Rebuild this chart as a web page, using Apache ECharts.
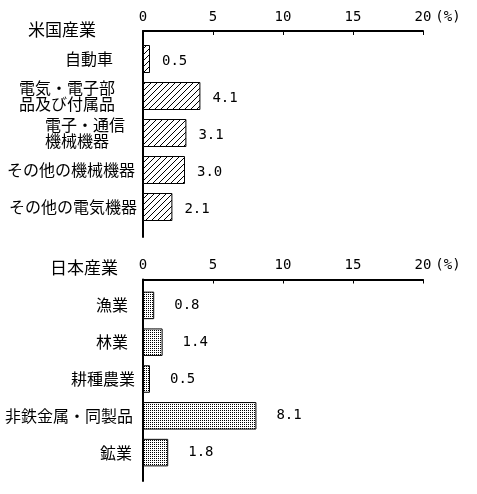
<!DOCTYPE html>
<html>
<head>
<meta charset="utf-8">
<script src="https://cdn.jsdelivr.net/npm/echarts@6/dist/echarts.min.js"></script>
<style>
html, body { margin: 0; padding: 0; background: #fff; }
#main { width: 477px; height: 494px; }
</style>
</head>
<body>
<div id="main"></div>
<script>
// data
var usTitle = '米国産業';
var usCats = ['自動車', '電気・電子部\n品及び付属品', '電子・通信\n機械機器', 'その他の機械機器', 'その他の電気機器'];
var usVals = [0.5, 4.1, 3.1, 3.0, 2.1];

var jpTitle = '日本産業';
var jpCats = ['漁業', '林業', '耕種農業', '非鉄金属・同製品', '鉱業'];
var jpVals = [0.8, 1.4, 0.5, 8.1, 1.8];

var axisMin = 0, axisMax = 20, axisStep = 5;
var unitLabel = '(%)';

var jpFont = '"Noto Sans CJK JP", sans-serif';
var numFont = '"DejaVu Sans Mono", monospace';

// fill patterns
function hatch() {
    var c = document.createElement('canvas');
    c.width = 6; c.height = 6;
    var g = c.getContext('2d');
    g.fillStyle = '#fff';
    g.fillRect(0, 0, 6, 6);
    g.fillStyle = '#000';
    for (var i = 0; i < 6; i++) g.fillRect(i, 5 - i, 1, 1);
    return c;
}
function dots() {
    var c = document.createElement('canvas');
    c.width = 2; c.height = 2;
    var g = c.getContext('2d');
    g.fillStyle = '#fff';
    g.fillRect(0, 0, 2, 2);
    g.fillStyle = '#000';
    g.fillRect(0, 0, 1, 1);
    return c;
}

// label shifts (right padding) so the names sit like the original text boxes
var usRich = {
    c0: {padding: [0, 24, 0, 0]},
    c1: {padding: [0, 22, 0, 0], width: 96, align: 'left', lineHeight: 16},
    c2: {padding: [0, 12, 0, 0], width: 80, align: 'left', lineHeight: 16},
    c3: {padding: [0, 2, 0, 0]},
    c4: {padding: [0, 0, 0, 0]}
};
var jpRich = {
    c0: {padding: [0, 9, 0, 0]},
    c1: {padding: [0, 9, 0, 0]},
    c2: {padding: [0, 2, 0, 0]},
    c3: {padding: [0, 4, 0, 0]},
    c4: {padding: [0, 5, 0, 0]}
};

function frameX(idx) {
    return {
        gridIndex: idx, type: 'value', position: 'top',
        min: axisMin, max: axisMax, interval: axisStep,
        name: unitLabel, nameLocation: 'end', nameGap: 4,
        nameTextStyle: {fontFamily: numFont, fontSize: 14, color: '#000', verticalAlign: 'bottom', padding: [0, 0, 7, 0]},
        axisLine: {show: true, onZero: false, lineStyle: {color: '#000', width: 2}},
        axisTick: {show: true, inside: true, length: 4, lineStyle: {color: '#000', width: 1}},
        axisLabel: {margin: 7, fontFamily: numFont, fontSize: 14, color: '#000'},
        splitLine: {show: false}
    };
}
function frameY(idx) {
    return {
        gridIndex: idx, type: 'value', min: 0, max: 1,
        axisLine: {show: true, onZero: false, lineStyle: {color: '#000', width: 2}},
        axisTick: {show: false}, axisLabel: {show: false}, splitLine: {show: false}
    };
}
function barX(idx) {
    return {
        gridIndex: idx, type: 'value', min: axisMin, max: axisMax,
        show: false, splitLine: {show: false}
    };
}
function barY(idx, cats, rich) {
    return {
        gridIndex: idx, type: 'category', inverse: true, data: cats,
        axisLine: {show: false}, axisTick: {show: false},
        axisLabel: {
            margin: 6, fontFamily: jpFont, fontSize: 16, color: '#000', lineHeight: 16,
            formatter: function (v, i) { return '{c' + i + '|' + v + '}'; },
            rich: rich
        }
    };
}
function barSeries(axisIdx, vals, fill, width, dist, dy) {
    return {
        type: 'bar', xAxisIndex: axisIdx, yAxisIndex: axisIdx,
        data: vals, barWidth: width,
        itemStyle: {color: {image: fill, repeat: 'repeat'}, borderColor: '#000', borderWidth: 1},
        label: {
            show: true, position: 'right', distance: dist, offset: [0, dy],
            fontFamily: numFont, fontSize: 14, color: '#000',
            formatter: function (p) { return p.value.toFixed(1); }
        },
        silent: true, animation: false
    };
}

var chart = echarts.init(document.getElementById('main'));
chart.setOption({
    animation: false,
    backgroundColor: '#fff',
    title: [
        {text: usTitle, left: 28, top: 21, padding: 0, textStyle: {fontFamily: jpFont, fontSize: 17, fontWeight: 'normal', color: '#000'}},
        {text: jpTitle, left: 50, top: 259, padding: 0, textStyle: {fontFamily: jpFont, fontSize: 17, fontWeight: 'normal', color: '#000'}}
    ],
    grid: [
        {left: 143, width: 280, top: 31, height: 206},
        {left: 143, width: 280, top: 40.5, height: 185},
        {left: 143, width: 280, top: 279.5, height: 201.5},
        {left: 143, width: 280, top: 287, height: 184}
    ],
    xAxis: [frameX(0), barX(1), frameX(2), barX(3)],
    yAxis: [frameY(0), barY(1, usCats, usRich), frameY(2), barY(3, jpCats, jpRich)],
    series: [
        barSeries(1, usVals, hatch(), 28, 12, 2),
        barSeries(3, jpVals, dots(), 27.5, 20, 0)
    ]
});
</script>
</body>
</html>
